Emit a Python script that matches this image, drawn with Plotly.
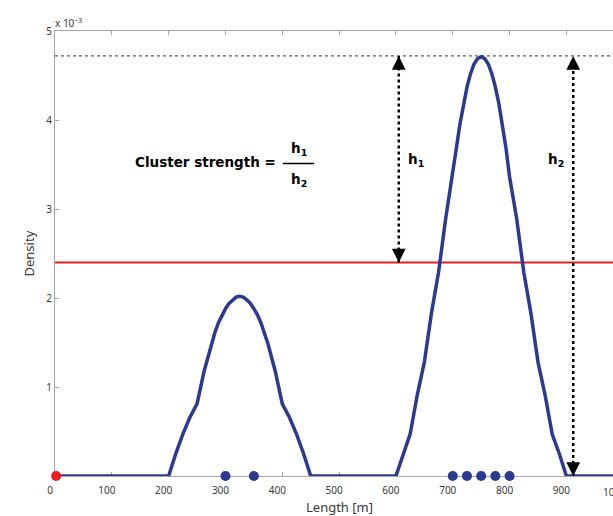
import plotly.graph_objects as go

# ---------------- data (density in units of 1e-3) ----------------
curve_x = [0, 200, 212.5, 225, 237.5, 250, 262.5, 275, 281.25, 287.5, 293.75, 300,
           306.25, 312.5, 318.75, 325, 331.25, 337.5, 343.75, 350, 356.25, 362.5,
           368.75, 375, 387.5, 400, 412.5, 425, 437.5, 450,
           600, 612.5, 625, 637.5, 650, 662.5, 675, 687.5, 693.75, 700, 706.25,
           712.5, 718.75, 725, 731.25, 737.5, 743.75, 750, 756.25, 762.5, 768.75,
           775, 781.25, 787.5, 793.75, 800, 806.25, 812.5, 825, 837.5, 850, 862.5,
           875, 887.5, 900, 1000]
curve_y = [0, 0, 0.25, 0.47, 0.66, 0.81, 1.18, 1.48, 1.61, 1.72, 1.81, 1.88,
           1.94, 1.98, 2.01, 2.02, 2.01, 1.98, 1.94, 1.88, 1.81, 1.72,
           1.61, 1.48, 1.18, 0.81, 0.66, 0.47, 0.25, 0,
           0, 0.25, 0.47, 0.91, 1.28, 1.83, 2.29, 2.89, 3.15, 3.36, 3.68,
           3.95, 4.18, 4.37, 4.52, 4.63, 4.69, 4.71, 4.69, 4.63, 4.52,
           4.37, 4.18, 3.95, 3.68, 3.36, 3.15, 2.89, 2.29, 1.83, 1.28, 0.91,
           0.47, 0.25, 0, 0]
event_x = [300, 350, 700, 725, 750, 775, 800]
event_y = [0, 0, 0, 0, 0, 0, 0]
origin_x = [2]
origin_y = [0]
threshold = 2.40
peak_level = 4.72
h1_x = 605
h2_x = 912
x_ticks = [0, 100, 200, 300, 400, 500, 600, 700, 800, 900]
y_ticks = [1, 2, 3, 4, 5]
X_MAX = 982
Y_MAX = 5

NAVY = "#2b3990"
RED = "#e3211c"
GRAY = "#a6a6a6"
TXT = "#3a3a3a"
TICKFONT = dict(family="Noto Sans, Open Sans, sans-serif", size=10, color=TXT)
BOLD = "DejaVu Sans, Verdana, sans-serif"
BSIZE = 13.5

fig = go.Figure()

# reference lines
fig.add_trace(go.Scatter(x=[0, 1000], y=[peak_level, peak_level], mode="lines",
                         line=dict(color="#333333", width=1, dash="dot"),
                         hoverinfo="skip", showlegend=False))
fig.add_trace(go.Scatter(x=[0, 1000], y=[threshold, threshold], mode="lines",
                         line=dict(color=RED, width=2),
                         hoverinfo="skip", showlegend=False))
# dotted vertical measures
fig.add_trace(go.Scatter(x=[h1_x, h1_x], y=[threshold, peak_level], mode="lines",
                         line=dict(color="black", width=2.5, dash="dot"),
                         hoverinfo="skip", showlegend=False))
fig.add_trace(go.Scatter(x=[h2_x, h2_x], y=[0, peak_level], mode="lines",
                         line=dict(color="black", width=2.5, dash="dot"),
                         hoverinfo="skip", showlegend=False, cliponaxis=False))

# density curve
fig.add_trace(go.Scatter(x=curve_x, y=curve_y, mode="lines",
                         line=dict(color=NAVY, width=3.5),
                         cliponaxis=False, showlegend=False))
# events
fig.add_trace(go.Scatter(x=event_x, y=event_y, mode="markers",
                         marker=dict(color=NAVY, size=10),
                         cliponaxis=False, showlegend=False))
fig.add_trace(go.Scatter(x=origin_x, y=origin_y, mode="markers",
                         marker=dict(color="#ee1c24", size=10),
                         cliponaxis=False, showlegend=False))

annotations = []
# arrow heads
for (ax_x, ax_y, off) in [(h1_x, peak_level, 14), (h1_x, threshold, -14),
                          (h2_x, peak_level, 14), (h2_x, 0, -14)]:
    annotations.append(dict(x=ax_x, y=ax_y, xref="x", yref="y", text="",
                            showarrow=True, arrowhead=2, arrowsize=1.1,
                            arrowwidth=2.5, arrowcolor="black",
                            ax=0, ay=off))

annotations += [
    dict(x=617, y=3.55, xref="x", yref="y", text="<b>h<sub>1</sub></b>",
         showarrow=False, xanchor="left", font=dict(family=BOLD, size=BSIZE, color="black")),
    dict(x=864, y=3.55, xref="x", yref="y", text="<b>h<sub>2</sub></b>",
         showarrow=False, xanchor="left", font=dict(family=BOLD, size=BSIZE, color="black")),
    dict(x=393, y=3.53, xref="x", yref="y", text="<b>Cluster strength =</b>",
         showarrow=False, xanchor="right", font=dict(family=BOLD, size=BSIZE, color="black")),
    dict(x=429, y=3.67, xref="x", yref="y", text="<b>h<sub>1</sub></b>",
         showarrow=False, font=dict(family=BOLD, size=BSIZE, color="black")),
    dict(x=429, y=3.33, xref="x", yref="y", text="<b>h<sub>2</sub></b>",
         showarrow=False, font=dict(family=BOLD, size=BSIZE, color="black")),
    # axis titles
    dict(x=500, y=0, xref="x", yref="paper", yanchor="top", yshift=-20,
         text="Length [m]", showarrow=False,
         font=dict(family="Noto Sans, Open Sans, sans-serif", size=13, color=TXT)),
    dict(x=0, y=0.5, xref="paper", yref="paper", xanchor="center", xshift=-27,
         text="Density", textangle=-90, showarrow=False,
         font=dict(family="Noto Sans, Open Sans, sans-serif", size=13, color=TXT)),
    dict(x=0, y=1, xref="paper", yref="paper", xanchor="left", yanchor="bottom",
         yshift=-1, xshift=-2,
         text="x 10<sup>−3</sup>", showarrow=False, font=TICKFONT),
    # cropped 1000 label
    dict(x=1000 / X_MAX, y=0, xref="paper", yref="paper", yanchor="top",
         yshift=-7, xshift=5, text="1000", showarrow=False, font=TICKFONT),
]

fig.add_shape(type="line", x0=401, x1=456, y0=3.51, y1=3.51, xref="x", yref="y",
              line=dict(color="black", width=1.5))

fig.update_layout(
    width=613, height=516,
    margin=dict(l=55, r=0, t=31, b=40),
    plot_bgcolor="white", paper_bgcolor="white",
    annotations=annotations,
    showlegend=False,
)
fig.update_xaxes(range=[0, X_MAX], tickvals=x_ticks, ticks="inside", ticklen=4,
                 tickcolor=GRAY, showline=True, linecolor=GRAY, linewidth=1,
                 mirror="ticks", showgrid=False, zeroline=False, layer="below traces",
                 tickfont=TICKFONT, ticklabelshift=-5, ticklabelstandoff=5)
fig.update_yaxes(range=[0, Y_MAX], tickvals=y_ticks, ticks="inside", ticklen=4,
                 tickcolor=GRAY, showline=True, linecolor=GRAY, linewidth=1,
                 mirror=False, showgrid=False, zeroline=False, layer="below traces",
                 tickfont=TICKFONT)

fig.write_html("out.html")
